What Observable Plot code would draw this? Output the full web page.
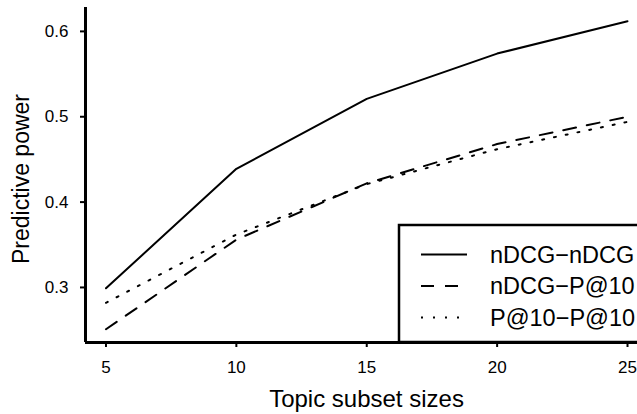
<!DOCTYPE html>
<html><head><meta charset="utf-8">
<script src="https://cdn.jsdelivr.net/npm/d3@7"></script>
<script src="https://cdn.jsdelivr.net/npm/@observablehq/plot@0.6"></script>
<style>body{margin:0;background:#fff;} #chart{position:relative;width:637px;height:414px;overflow:hidden;}</style>
</head><body><div id="chart"></div>
<script>
const sizes = [5, 10, 15, 20, 25];
const seriesNames = ["nDCG\u2212nDCG", "nDCG\u2212P@10", "P@10\u2212P@10"];
const ndcgNdcg = [0.299, 0.439, 0.521, 0.574, 0.612];
const ndcgP10 = [0.251, 0.356, 0.422, 0.468, 0.500];
const p10P10 = [0.282, 0.362, 0.421, 0.462, 0.494];
const xTicks = [5, 10, 15, 20, 25];
const yTicks = [0.3, 0.4, 0.5, 0.6];
const xTitle = "Topic subset sizes";
const yTitle = "Predictive power";

const dashes = ["none", "13,11", "2,10"];
const allSeries = [ndcgNdcg, ndcgP10, p10P10];
const rows = [];
allSeries.forEach((vals, i) => vals.forEach((v, j) => rows.push({series: seriesNames[i], x: sizes[j], y: v})));

const xDomain = [4.215, 25.383], yDomain = [0.2355, 0.628];
const font = '"Liberation Sans", Arial, Helvetica, sans-serif';

const chart = Plot.plot({
  width: 637, height: 414,
  marginLeft: 85, marginRight: 0, marginTop: 7, marginBottom: 72,
  style: {fontFamily: font, fontSize: "17px", background: "white", color: "black"},
  x: {domain: xDomain},
  y: {domain: yDomain},
  marks: [
    Plot.axisX(xTicks, {tickSize: 5, tickPadding: 13, fontSize: 17, label: null, tickFormat: d => String(d), strokeWidth: 2}),
    Plot.axisY(yTicks, {tickSize: 5, tickPadding: 12, fontSize: 17, label: null, tickFormat: d => d.toFixed(1), strokeWidth: 2}),
    ...seriesNames.map((s, i) => Plot.line(rows.filter(r => r.series === s), {
      x: "x", y: "y", stroke: "black", strokeWidth: 2, strokeDasharray: dashes[i]
    })),
    Plot.ruleX([xDomain[0]], {strokeWidth: 3}),
    Plot.ruleY([yDomain[0]], {strokeWidth: 3}),
    Plot.text([xTitle], {frameAnchor: "bottom", textAnchor: "middle", lineAnchor: "middle", dx: 5, dy: 57, fontSize: 24}),
    Plot.text([yTitle], {frameAnchor: "left", rotate: -90, textAnchor: "middle", lineAnchor: "middle", dx: -64, dy: 4, fontSize: 23})
  ]
});
document.getElementById("chart").appendChild(chart);

// legend drawn inside the plot area, lower-right corner
const svg = d3.select(chart);
const lg = svg.append("g").attr("font-family", font).attr("text-anchor", "start");
lg.append("rect").attr("x", 399).attr("y", 225).attr("width", 260).attr("height", 117)
  .attr("fill", "white").attr("stroke", "black").attr("stroke-width", 2.5);
seriesNames.forEach((s, i) => {
  const cy = 254.5 + i * 31.5;
  lg.append("line").attr("x1", 421).attr("x2", 467).attr("y1", cy).attr("y2", cy)
    .attr("stroke", "black").attr("stroke-width", 2).attr("stroke-dasharray", dashes[i]);
  lg.append("text").attr("x", 490).attr("y", cy + 8).attr("font-size", 23.5).attr("fill", "black")
    .attr("text-anchor", "start").text(s);
});
</script></body></html>
